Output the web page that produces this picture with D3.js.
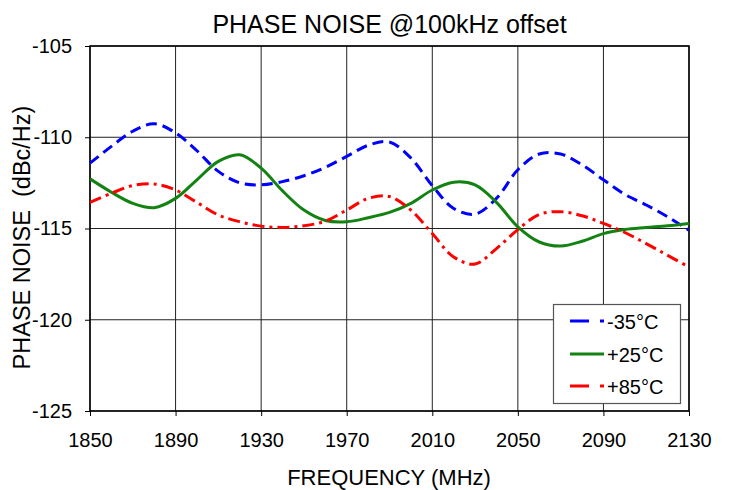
<!DOCTYPE html>
<html><head><meta charset="utf-8">
<script src="https://cdn.jsdelivr.net/npm/d3@7"></script>
<style>body{margin:0;background:#fff}svg{display:block}text{font-family:"Liberation Sans",Arial,Helvetica,sans-serif;fill:#000}</style>
</head><body><svg id="c" width="729" height="490"></svg>
<script>
const freqs = [1850,1860,1870,1880,1890,1900,1910,1920,1930,1940,1950,1960,1970,1980,1990,2000,2010,2020,2030,2040,2050,2060,2070,2080,2090,2100,2110,2120,2130];
const m35 = [-111.42,-110.5,-109.67,-109.26,-109.76,-110.74,-111.87,-112.5,-112.61,-112.43,-112.11,-111.65,-111.05,-110.44,-110.26,-111.14,-112.65,-113.9,-114.21,-113.35,-111.78,-110.92,-110.92,-111.51,-112.33,-113.13,-113.71,-114.36,-115.09];
const p25 = [-112.28,-113.01,-113.62,-113.86,-113.35,-112.33,-111.32,-110.96,-111.69,-112.94,-113.99,-114.56,-114.63,-114.41,-114.12,-113.62,-112.89,-112.46,-112.61,-113.57,-114.91,-115.74,-115.96,-115.7,-115.28,-115.06,-114.95,-114.85,-114.72];
const p85 = [-113.57,-113.07,-112.65,-112.56,-112.89,-113.57,-114.26,-114.63,-114.87,-114.94,-114.85,-114.6,-113.99,-113.35,-113.25,-113.99,-115.28,-116.56,-116.95,-116.1,-115.06,-114.23,-114.08,-114.3,-114.72,-115.22,-115.83,-116.47,-117.11];
const seriesNames = ["-35°C","+25°C","+85°C"];
const xTicks = [1850,1890,1930,1970,2010,2050,2090,2130];
const yTicks = [-125,-120,-115,-110,-105];

const styles = [
  {color:"#0000ff", dash:"11,6", legendDash:"19,11,4"},
  {color:"#128212", dash:null, legendDash:null},
  {color:"#ff0000", dash:"12,5,3,5", legendDash:"19,11,4"}
];
const seriesVals = [m35,p25,p85];

const svg = d3.select("#c");
const L=90, R=689, T=46, B=411;
const x = d3.scaleLinear().domain([1850,2130]).range([L,R]);
const y = d3.scaleLinear().domain([-125,-105]).range([B,T]);

// grid
svg.append("g").selectAll("line").data(xTicks).join("line")
  .attr("x1",d=>x(d)).attr("x2",d=>x(d)).attr("y1",T).attr("y2",B)
  .attr("stroke","#222").attr("stroke-width",1);
svg.append("g").selectAll("line").data(yTicks).join("line")
  .attr("x1",L).attr("x2",R).attr("y1",d=>y(d)).attr("y2",d=>y(d))
  .attr("stroke","#222").attr("stroke-width",1);

// axes
const xAxis = d3.axisBottom(x).tickValues(xTicks).tickSize(5).tickPadding(17).tickFormat(d=>String(d));
const gx = svg.append("g").attr("transform",`translate(0,${B})`).call(xAxis);
gx.select(".domain").remove();
gx.selectAll("line").attr("stroke","#000");
gx.selectAll("text").attr("font-size",20).attr("font-family","Liberation Sans, Arial, sans-serif");

const yAxis = d3.axisLeft(y).tickValues(yTicks).tickSize(5).tickPadding(13).tickFormat(d=>String(d));
const gy = svg.append("g").attr("transform",`translate(${L},0)`).call(yAxis);
gy.select(".domain").remove();
gy.selectAll("line").attr("stroke","#000");
gy.selectAll("text").attr("font-size",20).attr("font-family","Liberation Sans, Arial, sans-serif");

// frame
svg.append("rect").attr("x",L).attr("y",T).attr("width",R-L).attr("height",B-T)
  .attr("fill","none").attr("stroke","#000").attr("stroke-width",1.5);

// lines
const line = d3.line().x((d,i)=>x(freqs[i])).y(d=>y(d)).curve(d3.curveCatmullRom.alpha(0.5));
svg.append("clipPath").attr("id","pc").append("rect").attr("x",L).attr("y",T).attr("width",R-L).attr("height",B-T);
seriesVals.forEach((vals,k)=>{
  svg.append("path").attr("d",line(vals)).attr("fill","none")
    .attr("stroke",styles[k].color).attr("stroke-width",3)
    .attr("stroke-dasharray",styles[k].dash).attr("clip-path","url(#pc)");
});

// legend
const lg = svg.append("g");
lg.append("rect").attr("x",553.5).attr("y",304.5).attr("width",127).attr("height",99)
  .attr("fill","#fff").attr("stroke","#555").attr("stroke-width",1.2);
const rowsY = [321,354,386];
seriesNames.forEach((n,k)=>{
  const yy = rowsY[k];
  lg.append("line").attr("x1",570).attr("x2",604).attr("y1",yy).attr("y2",yy)
    .attr("stroke",styles[k].color).attr("stroke-width",3).attr("stroke-dasharray",styles[k].legendDash);
  lg.append("text").attr("x",607).attr("y",yy+1).attr("dy","0.36em").attr("font-size",20).text(n);
});

// titles
svg.append("text").attr("x",389.5).attr("y",33).attr("text-anchor","middle").attr("font-size",25).text("PHASE NOISE @100kHz offset");
svg.append("text").attr("x",389).attr("y",485).attr("text-anchor","middle").attr("font-size",22).text("FREQUENCY (MHz)");
svg.append("text").attr("transform","translate(30,237.5) rotate(-90)").attr("text-anchor","middle").attr("font-size",23.5)
  .style("white-space","pre").text("PHASE NOISE  (dBc/Hz)");
</script></body></html>
